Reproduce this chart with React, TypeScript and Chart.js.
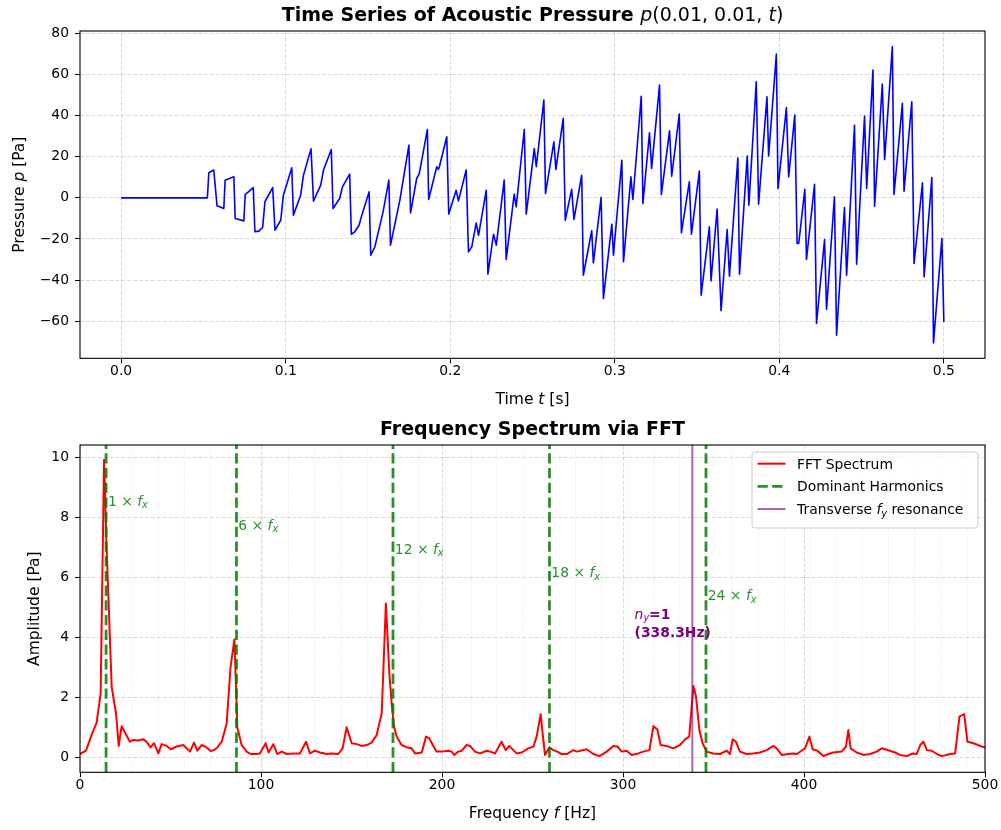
import React, { useEffect, useRef } from 'react';
import { Chart, registerables } from 'chart.js';

Chart.register(...registerables);

// ---------- Top panel: time series ----------
const timeS = [
  0, 0.0524, 0.0533, 0.0563, 0.0583, 0.0624, 0.0632, 0.0685, 0.0693, 0.0746,
  0.0754, 0.0803, 0.0813, 0.0837, 0.086, 0.0874, 0.0921, 0.0935, 0.097, 0.0986,
  0.1037, 0.1047, 0.1091, 0.1108, 0.1154, 0.1169, 0.1213, 0.123,
  0.1277, 0.1288, 0.1328, 0.1345, 0.1389, 0.1399, 0.142, 0.1446, 0.146, 0.1507,
  0.1517, 0.1542, 0.1592, 0.1627, 0.1637, 0.1694, 0.1749, 0.1759, 0.1796, 0.1812,
  0.1861, 0.1869, 0.1918, 0.1928, 0.1934, 0.1979, 0.1991, 0.2036, 0.205, 0.2097,
  0.2111, 0.2131, 0.2158, 0.2172, 0.2219, 0.2229, 0.2263, 0.228, 0.2328, 0.234,
  0.2389, 0.2401, 0.245, 0.2462, 0.2511, 0.2523,
  0.2569, 0.2579, 0.263, 0.2642, 0.2687, 0.2699, 0.2738, 0.2752, 0.2799, 0.2809,
  0.286, 0.287, 0.2917, 0.2931, 0.2982, 0.2992, 0.3043, 0.3053, 0.3098, 0.311,
  0.3161, 0.3171, 0.3211, 0.3224, 0.3272, 0.3283, 0.3333, 0.3346, 0.3392, 0.3405,
  0.3453, 0.3466, 0.3514, 0.3525, 0.3575, 0.3585, 0.3622, 0.3646, 0.3683, 0.3697,
  0.3748, 0.3758, 0.3805, 0.3815,
  0.386, 0.3874, 0.3925, 0.3935, 0.3982, 0.3992, 0.4043, 0.4057, 0.4094, 0.4108,
  0.4118, 0.4155, 0.4165, 0.4214, 0.4226, 0.4275, 0.4287, 0.4335, 0.4348, 0.4396,
  0.4409, 0.4457, 0.447, 0.4518, 0.4531, 0.4569, 0.4579, 0.4626, 0.464, 0.4687,
  0.4697, 0.4748, 0.4758, 0.4805, 0.4819, 0.487, 0.488, 0.4927, 0.4937, 0.4988,
  0.5,
];
const pressurePa = [
  0, 0, 12.2, 13.5, -3.9, -5.2, 8.6, 10.2, -10.0, -11.2,
  1.6, 5.0, -16.5, -16.2, -14.4, -1.9, 5.0, -15.7, -10.9, 1.3,
  14.6, -8.4, 1.3, 11.0, 23.8, -1.6, 6.2, 13.5,
  23.5, -5.2, -0.3, 5.3, 11.5, -17.7, -16.5, -13.3, -9.2, 2.9,
  -27.9, -23.8, -6.8, 8.6, -23.0, -1.1, 25.6, -7.3, 9.4, 11.8,
  33.2, -0.8, 15.1, 13.8, 15.1, 29.7, -7.9, 3.7, -1.5, 13.5,
  -26.3, -23.8, -12.2, -18.2, 3.7, -37.1, -17.7, -23.0, 8.6, -30.0,
  1.8, -4.4, 33.2, -7.9, 24.0, 15.1,
  47.5, 2.1, 27.2, 13.8, 38.6, -10.9, 4.1, -10.5, 11.0, -37.6,
  -16.0, -31.6, 0.2, -48.9, -12.8, -27.9, 18.3, -31.1, 10.2, -0.8,
  49.4, -2.8, 31.6, 14.3, 54.8, 1.6, 32.6, 10.5, 40.7, -17.0,
  7.8, -17.7, 13.0, -47.3, -14.1, -40.4, -5.5, -54.9, -15.4, -38.1,
  19.4, -37.1, 20.3, -3.6,
  56.4, -3.1, 49.1, 20.3, 69.9, 4.5, 43.9, 10.2, 40.2, -22.2,
  -22.2, 4.1, -30.0, 6.6, -61.1, -20.3, -54.3, 0.5, -66.8, -4.7,
  -37.6, 35.3, -32.3, 39.7, 4.5, 62.1, -4.1, 55.3, 18.6, 73.6,
  1.6, 45.9, 3.2, 46.7, -31.9, 7.3, -38.4, 9.9, -70.5, -19.8,
  -60.3,
];
const timeTicks = [0, 0.1, 0.2, 0.3, 0.4, 0.5];
const pressureTicks = [-60, -40, -20, 0, 20, 40, 60, 80];
const timeRange = [-0.025, 0.525];
const pressureRange = [-78, 81.1];

// ---------- Bottom panel: spectrum ----------
const freqHz = [
  0, 3.3, 6.4, 9.2, 11.4, 13.3, 14.7, 17.5, 19.9, 21.4, 23.0, 24.9, 27.6, 29.5, 32.2,
  35.0, 36.8, 39.0, 40.9, 43.3, 45.1, 47.9, 50.1, 53.4, 57.1, 60.8, 63.0, 64.8, 67.2,
  70.0, 72.2, 74.0, 75.9, 78.3, 81.0, 83.2, 85.3, 86.2, 86.9, 89.3, 92.1, 94.3, 97.1,
  99.4, 102.6, 104.2, 106.8, 109.0, 111.4, 114.2, 117.9, 121.5, 124.9, 127.1, 129.8,
  132.6, 136.3, 139.0, 142.7, 145.1, 147.3, 150.1, 152.9, 155.6, 158.4, 161.1, 163.9,
  166.7, 169.0, 170.9, 172.2, 173.5, 175.0, 177.7, 180.8, 183.2, 185.1, 188.8, 191.2,
  193.0, 195.2, 197.0, 199.8, 203.5, 205.3, 206.8, 209.0, 210.9, 213.6, 215.5, 218.2,
  221.0, 224.7, 226.5, 229.3, 232.9, 235.2, 237.2, 239.4, 241.2, 244.0, 247.7, 250.5,
  252.3, 254.5, 255.6, 256.9, 259.3, 261.5, 263.7, 266.1, 268.9, 272.6, 274.4, 279.9,
  283.6, 287.0, 291.0, 294.7, 296.9, 299.3, 302.0, 304.8, 308.5, 311.2, 314.6, 316.8,
  319.0, 320.8, 324.1, 327.8, 331.5, 334.3, 336.6, 338.9, 340.3, 342.2, 344.0, 346.2,
  349.9, 353.6, 357.3, 359.1, 360.6, 362.4, 364.6, 368.3, 372.0, 375.7, 379.4, 383.1,
  384.9, 387.7, 391.4, 394.1, 396.0, 398.7, 400.6, 403.0, 404.8, 407.4, 410.7, 413.5,
  416.2, 420.8, 423.2, 424.5, 425.8, 429.1, 432.8, 436.5, 440.2, 442.9, 444.8, 447.5,
  450.3, 453.1, 456.8, 460.1, 462.3, 464.2, 466.0, 467.9, 470.6, 473.4, 476.1, 480.8,
  483.5, 485.9, 488.5, 490.3, 493.6, 498.2, 500.0,
];
const amplitudePa = [
  0.11, 0.22, 0.74, 1.16, 2.13, 9.93, 7.0, 2.36, 1.47, 0.38, 1.04, 0.82, 0.52, 0.58, 0.56,
  0.6, 0.52, 0.33, 0.47, 0.13, 0.44, 0.38, 0.27, 0.36, 0.41, 0.19, 0.49, 0.22, 0.41,
  0.33, 0.21, 0.24, 0.33, 0.52, 1.11, 3.02, 3.93, 2.36, 1.0, 0.41, 0.19, 0.11, 0.11,
  0.13, 0.47, 0.16, 0.44, 0.11, 0.19, 0.11, 0.13, 0.13, 0.52, 0.13, 0.22,
  0.16, 0.11, 0.13, 0.11, 0.3, 1.0, 0.47, 0.44, 0.38, 0.41, 0.49, 0.74,
  1.47, 5.13, 2.8, 1.8, 1.02, 0.69, 0.41, 0.33, 0.3, 0.13, 0.16, 0.69,
  0.63, 0.38, 0.19, 0.19, 0.22, 0.19, 0.08, 0.19, 0.22, 0.41, 0.38, 0.19,
  0.13, 0.22, 0.19, 0.13, 0.52, 0.24, 0.38, 0.24, 0.13, 0.16, 0.3, 0.36,
  0.69, 1.44, 0.8, 0.08, 0.33, 0.24, 0.19, 0.11, 0.11, 0.24, 0.19, 0.27,
  0.11, 0.04, 0.19, 0.38, 0.36, 0.19, 0.22, 0.08, 0.13, 0.19, 0.24, 1.04,
  0.93, 0.41, 0.38, 0.3, 0.41, 0.6, 0.69, 2.38, 2.04, 0.91, 0.47, 0.19,
  0.13, 0.11, 0.22, 0.11, 0.6, 0.52, 0.19, 0.11, 0.13, 0.16, 0.24, 0.38,
  0.3, 0.08, 0.11, 0.13, 0.11, 0.22, 0.3, 0.69, 0.27, 0.22, 0.04, 0.11,
  0.16, 0.19, 0.36, 0.91, 0.3, 0.16, 0.08, 0.11, 0.19, 0.3, 0.27, 0.22,
  0.16, 0.08, 0.04, 0.13, 0.11, 0.41, 0.52, 0.24, 0.22, 0.11, 0.04, 0.11,
  0.13, 1.36, 1.44, 0.52, 0.47, 0.36, 0.33,
];
const freqTicks = [0, 100, 200, 300, 400, 500];
const ampTicks = [0, 2, 4, 6, 8, 10];
const freqRange = [0, 500];
const ampRange = [-0.5, 10.42];

const fundamentalHz = 14.41;
const harmonicOrders = [1, 6, 12, 18, 24];
const harmonicLabelAmp = [8.4, 7.6, 6.8, 6.0, 5.25];
const minorGridOrders = [
  1, 2, 3, 4, 5, 6, 7, 8, 9, 10, 11, 12, 13, 14, 15, 16, 17, 18, 19, 20, 21, 22, 23, 24,
  25, 26, 27, 28, 29, 30, 31, 32, 33, 34,
];
const transverseHz = 338.3;
const transverseLabelHz = 306.4;
const transverseLabelAmp = [4.63, 4.0];

// ---------- styling helpers ----------
const FAMILY = '"DejaVu Sans", sans-serif';
const F = (size: number, style = '') => `${style} ${size}px ${FAMILY}`.trim();
const gridColor = 'rgba(176,176,176,0.6)';
const GREEN = 'rgba(0,128,0,0.85)';
const PURPLE_LINE = 'rgba(128,0,128,0.62)';
const PURPLE = '#800080';
const tickFont = { family: 'DejaVu Sans', size: 13.9 };

type Run = { t: string; font: string; dy?: number };

function drawRuns(
  ctx: CanvasRenderingContext2D,
  runs: Run[],
  x: number,
  y: number,
  align: 'left' | 'center' | 'right',
  color: string
) {
  ctx.save();
  ctx.fillStyle = color;
  ctx.textAlign = 'left';
  ctx.textBaseline = 'alphabetic';
  let w = 0;
  for (const r of runs) {
    ctx.font = r.font;
    w += ctx.measureText(r.t).width;
  }
  let cx = align === 'left' ? x : align === 'center' ? x - w / 2 : x - w;
  for (const r of runs) {
    ctx.font = r.font;
    ctx.fillText(r.t, cx, y + (r.dy || 0));
    cx += ctx.measureText(r.t).width;
  }
  ctx.restore();
}

function drawRotated(ctx: CanvasRenderingContext2D, runs: Run[], x: number, y: number) {
  ctx.save();
  ctx.translate(x, y);
  ctx.rotate(-Math.PI / 2);
  drawRuns(ctx, runs, 0, 0, 'center', '#000');
  ctx.restore();
}

function xAxis(range: number[], ticks: number[], fmt: (v: number) => string, height: number) {
  return {
    type: 'linear',
    min: range[0],
    max: range[1],
    afterBuildTicks: (s: any) => {
      s.ticks = ticks.map((v) => ({ value: v }));
    },
    afterFit: (s: any) => {
      s.height = height;
    },
    ticks: {
      callback: (v: any) => fmt(Number(v)),
      font: tickFont,
      color: '#000',
      padding: 0,
      maxRotation: 0,
      autoSkip: false,
    },
    grid: {
      color: gridColor,
      lineWidth: 0.8,
      tickColor: '#000',
      tickLength: 5,
      tickWidth: 1,
      tickBorderDash: [],
    },
    border: { display: false, dash: [4.1, 1.8] },
  };
}

function yAxis(range: number[], ticks: number[], fmt: (v: number) => string) {
  return {
    type: 'linear',
    min: range[0],
    max: range[1],
    afterBuildTicks: (s: any) => {
      s.ticks = ticks.map((v) => ({ value: v }));
    },
    afterFit: (s: any) => {
      s.width = 80;
    },
    ticks: {
      callback: (v: any) => fmt(Number(v)),
      font: tickFont,
      color: '#000',
      padding: 6,
      autoSkip: false,
    },
    grid: {
      color: gridColor,
      lineWidth: 0.8,
      tickColor: '#000',
      tickLength: 5,
      tickWidth: 1,
      tickBorderDash: [],
    },
    border: { display: false, dash: [4.1, 1.8] },
  };
}

const minusFmt = (v: number) => (v < 0 ? '\u2212' + Math.abs(v) : String(v));

const framePlugin = {
  id: 'frame',
  afterDatasetsDraw(chart: any) {
    const { ctx, chartArea: a } = chart;
    ctx.save();
    ctx.strokeStyle = '#000';
    ctx.lineWidth = 1.1;
    ctx.strokeRect(a.left, a.top, a.right - a.left, a.bottom - a.top);
    ctx.restore();
  },
};

export default function App() {
  const topRef = useRef<HTMLCanvasElement>(null);
  const botRef = useRef<HTMLCanvasElement>(null);

  useEffect(() => {
    const charts: Chart[] = [];

    // ----- top chart -----
    const topText = {
      id: 'topText',
      afterDraw(chart: any) {
        const { ctx, chartArea: a } = chart;
        const cx = (a.left + a.right) / 2;
        drawRuns(
          ctx,
          [
            { t: 'Time Series of Acoustic Pressure ', font: F(19, 'bold') },
            { t: 'p', font: F(19, 'italic') },
            { t: '(0.01, 0.01, ', font: F(19) },
            { t: 't', font: F(19, 'italic') },
            { t: ')', font: F(19) },
          ],
          cx,
          21,
          'center',
          '#000'
        );
        drawRuns(
          ctx,
          [
            { t: 'Time ', font: F(15.5) },
            { t: 't', font: F(15.5, 'italic') },
            { t: ' [s]', font: F(15.5) },
          ],
          cx,
          404,
          'center',
          '#000'
        );
        drawRotated(
          ctx,
          [
            { t: 'Pressure ', font: F(15.5) },
            { t: 'p', font: F(15.5, 'italic') },
            { t: ' [Pa]', font: F(15.5) },
          ],
          23.5,
          (a.top + a.bottom) / 2
        );
      },
    };

    if (topRef.current) {
      charts.push(
        new Chart(topRef.current, {
          type: 'line',
          data: {
            datasets: [
              {
                data: timeS.map((t, i) => ({ x: t, y: pressurePa[i] })),
                borderColor: '#0000ff',
                borderWidth: 1.6,
                pointRadius: 0,
                tension: 0,
                fill: false,
                borderJoinStyle: 'round',
              } as any,
            ],
          },
          options: {
            animation: false,
            responsive: false,
            maintainAspectRatio: false,
            events: [],
            layout: { padding: { top: 31, right: 16, left: 0, bottom: 0 } },
            plugins: { legend: { display: false }, tooltip: { enabled: false }, title: { display: false } },
            scales: {
              x: xAxis(timeRange, timeTicks, (v) => v.toFixed(1), 56.7) as any,
              y: yAxis(pressureRange, pressureTicks, minusFmt) as any,
            },
          },
          plugins: [framePlugin, topText],
        })
      );
    }

    // ----- bottom chart -----
    const minorGrid = {
      id: 'minorGrid',
      beforeDatasetsDraw(chart: any) {
        const { ctx, chartArea: a, scales } = chart;
        ctx.save();
        ctx.strokeStyle = 'rgba(176,176,176,0.35)';
        ctx.lineWidth = 0.8;
        ctx.setLineDash([1, 1.3]);
        for (const n of minorGridOrders) {
          const x = scales.x.getPixelForValue(n * fundamentalHz);
          if (x <= a.left || x >= a.right) continue;
          ctx.beginPath();
          ctx.moveTo(x, a.bottom);
          ctx.lineTo(x, a.top);
          ctx.stroke();
        }
        ctx.restore();
      },
    };

    const botAnnot = {
      id: 'botAnnot',
      afterDatasetsDraw(chart: any) {
        const { ctx, scales } = chart;
        harmonicOrders.forEach((n, i) => {
          const x = scales.x.getPixelForValue(n * fundamentalHz + 1);
          const y = scales.y.getPixelForValue(harmonicLabelAmp[i]);
          drawRuns(
            ctx,
            [
              { t: `${n} \u00d7 `, font: F(13.9) },
              { t: 'f', font: F(13.9, 'italic') },
              { t: 'x', font: F(9.7, 'italic'), dy: 2.8 },
            ],
            x,
            y,
            'left',
            GREEN
          );
        });
        const lx = scales.x.getPixelForValue(transverseLabelHz);
        drawRuns(
          ctx,
          [
            { t: 'n', font: F(13.9, 'italic') },
            { t: 'y', font: F(9.7, 'italic'), dy: 2.8 },
            { t: '=1', font: F(13.9, 'bold') },
          ],
          lx,
          scales.y.getPixelForValue(transverseLabelAmp[0]),
          'left',
          PURPLE
        );
        drawRuns(
          ctx,
          [{ t: `(${transverseHz}Hz)`, font: F(13.9, 'bold') }],
          lx,
          scales.y.getPixelForValue(transverseLabelAmp[1]),
          'left',
          PURPLE
        );
      },
    };

    const botText = {
      id: 'botText',
      afterDraw(chart: any) {
        const { ctx, chartArea: a } = chart;
        const cx = (a.left + a.right) / 2;
        drawRuns(ctx, [{ t: 'Frequency Spectrum via FFT', font: F(19, 'bold') }], cx, 20, 'center', '#000');
        drawRuns(
          ctx,
          [
            { t: 'Frequency ', font: F(15.5) },
            { t: 'f', font: F(15.5, 'italic') },
            { t: ' [Hz]', font: F(15.5) },
          ],
          cx,
          403,
          'center',
          '#000'
        );
        drawRotated(ctx, [{ t: 'Amplitude [Pa]', font: F(15.5) }], 38.5, (a.top + a.bottom) / 2);

        // legend
        const bw = 226;
        const bh = 76;
        const bx = a.right - 7 - bw;
        const by = a.top + 7;
        ctx.save();
        ctx.beginPath();
        const r = 3;
        ctx.moveTo(bx + r, by);
        ctx.lineTo(bx + bw - r, by);
        ctx.quadraticCurveTo(bx + bw, by, bx + bw, by + r);
        ctx.lineTo(bx + bw, by + bh - r);
        ctx.quadraticCurveTo(bx + bw, by + bh, bx + bw - r, by + bh);
        ctx.lineTo(bx + r, by + bh);
        ctx.quadraticCurveTo(bx, by + bh, bx, by + bh - r);
        ctx.lineTo(bx, by + r);
        ctx.quadraticCurveTo(bx, by, bx + r, by);
        ctx.closePath();
        ctx.fillStyle = 'rgba(255,255,255,0.8)';
        ctx.fill();
        ctx.strokeStyle = '#cccccc';
        ctx.lineWidth = 1;
        ctx.stroke();

        const rows = [11.7, 34.4, 57];
        const hx0 = bx + 5.5;
        const hx1 = bx + 33.5;
        const tx = bx + 45;
        // FFT
        ctx.beginPath();
        ctx.strokeStyle = '#ff0000';
        ctx.lineWidth = 2;
        ctx.moveTo(hx0, by + rows[0]);
        ctx.lineTo(hx1, by + rows[0]);
        ctx.stroke();
        // harmonics
        ctx.beginPath();
        ctx.strokeStyle = GREEN;
        ctx.lineWidth = 2.8;
        ctx.setLineDash([10.3, 4.4]);
        ctx.moveTo(hx0, by + rows[1]);
        ctx.lineTo(hx1, by + rows[1]);
        ctx.stroke();
        ctx.setLineDash([]);
        // transverse
        ctx.beginPath();
        ctx.strokeStyle = PURPLE_LINE;
        ctx.lineWidth = 2;
        ctx.moveTo(hx0, by + rows[2]);
        ctx.lineTo(hx1, by + rows[2]);
        ctx.stroke();
        ctx.restore();

        drawRuns(ctx, [{ t: 'FFT Spectrum', font: F(13.9) }], tx, by + rows[0] + 5, 'left', '#000');
        drawRuns(ctx, [{ t: 'Dominant Harmonics', font: F(13.9) }], tx, by + rows[1] + 5, 'left', '#000');
        drawRuns(
          ctx,
          [
            { t: 'Transverse ', font: F(13.9) },
            { t: 'f', font: F(13.9, 'italic') },
            { t: 'y', font: F(9.7, 'italic'), dy: 2.8 },
            { t: ' resonance', font: F(13.9) },
          ],
          tx,
          by + rows[2] + 5,
          'left',
          '#000'
        );
      },
    };

    if (botRef.current) {
      const harmonicSets = harmonicOrders.map((n) => ({
        data: [
          { x: n * fundamentalHz, y: ampRange[0] },
          { x: n * fundamentalHz, y: ampRange[1] },
        ],
        borderColor: GREEN,
        borderWidth: 2.8,
        borderDash: [10.3, 4.4],
        pointRadius: 0,
        fill: false,
        order: 2,
      }));
      charts.push(
        new Chart(botRef.current, {
          type: 'line',
          data: {
            datasets: [
              {
                data: freqHz.map((f, i) => ({ x: f, y: amplitudePa[i] })),
                borderColor: '#ff0000',
                borderWidth: 2,
                pointRadius: 0,
                tension: 0,
                fill: false,
                borderJoinStyle: 'round',
                order: 3,
              } as any,
              ...(harmonicSets as any[]),
              {
                data: [
                  { x: transverseHz, y: ampRange[0] },
                  { x: transverseHz, y: ampRange[1] },
                ],
                borderColor: PURPLE_LINE,
                borderWidth: 2,
                pointRadius: 0,
                fill: false,
                order: 1,
              } as any,
            ],
          },
          options: {
            animation: false,
            responsive: false,
            maintainAspectRatio: false,
            events: [],
            layout: { padding: { top: 30, right: 16, left: 0, bottom: 0 } },
            plugins: { legend: { display: false }, tooltip: { enabled: false }, title: { display: false } },
            scales: {
              x: xAxis(freqRange, freqTicks, (v) => String(v), 57.7) as any,
              y: yAxis(ampRange, ampTicks, minusFmt) as any,
            },
          },
          plugins: [minorGrid, botAnnot, framePlugin, botText],
        })
      );
    }

    return () => {
      charts.forEach((c) => c.destroy());
    };
  }, []);

  return (
    <div
      style={{
        position: 'absolute',
        left: 0,
        top: 0,
        width: 1001,
        height: 830,
        background: '#ffffff',
      }}
    >
      <canvas ref={topRef} width={1001} height={415} style={{ display: 'block', width: 1001, height: 415 }} />
      <canvas ref={botRef} width={1001} height={415} style={{ display: 'block', width: 1001, height: 415 }} />
    </div>
  );
}
